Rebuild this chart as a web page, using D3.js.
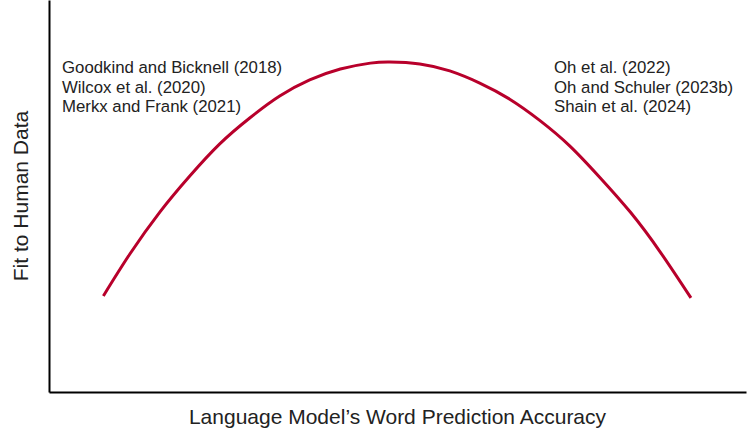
<!DOCTYPE html>
<html>
<head>
    <title>Fit to Human Data vs Word Prediction Accuracy</title>
    <style>
        body {
            margin: 0;
            background-color: #fff;
        }
        svg text {
            font-family: "Liberation Sans", Arial, sans-serif;
            fill: #222;
        }
        .label {
            font-size: 16.8px;
        }
        .axis-title {
            font-size: 21px;
        }
        .curve {
            fill: none;
            stroke: #b8002b;
            stroke-width: 3px;
        }
    </style>
</head>
<body>
    <div id="chart"></div>

    <script src="https://cdnjs.cloudflare.com/ajax/libs/d3/7.8.5/d3.min.js"></script>
    <script>
        // curve (x = accuracy, y = fit, both 0-100)
        const accuracy = [7.8, 11.6, 15.9, 20.2, 24.5, 28.8, 33.1, 37.4, 41.8, 46.1, 48.9,
                          53.2, 57.5, 61.8, 66.1, 70.4, 74.7, 79.0, 83.4, 87.7, 92.1];
        const fit = [24.5, 35.2, 45.9, 55.1, 63.3, 69.9, 75.5, 79.6, 82.4, 83.9, 84.2,
                     83.7, 81.9, 78.8, 74.7, 69.3, 62.8, 54.8, 45.9, 35.7, 24.0];

        const leftLabels = ["Goodkind and Bicknell (2018)", "Wilcox et al. (2020)", "Merkx and Frank (2021)"];
        const rightLabels = ["Oh et al. (2022)", "Oh and Schuler (2023b)", "Shain et al. (2024)"];

        const xTitle = "Language Model\u2019s Word Prediction Accuracy";
        const yTitle = "Fit to Human Data";

        const width = 747;
        const height = 436;
        const margin = {top: 0, right: 1, bottom: 44, left: 49};

        const svg = d3.select("#chart")
            .append("svg")
            .attr("width", width)
            .attr("height", height);

        const x = d3.scaleLinear()
            .domain([0, 100])
            .range([margin.left, width - margin.right]);

        const y = d3.scaleLinear()
            .domain([0, 100])
            .range([height - margin.bottom, margin.top]);

        // axes: plain lines, no ticks
        svg.append("g")
            .attr("transform", `translate(0,${height - margin.bottom})`)
            .call(d3.axisBottom(x).ticks(0).tickSizeOuter(0))
            .select(".domain")
            .attr("stroke", "#000")
            .attr("stroke-width", 2);

        svg.append("g")
            .attr("transform", `translate(${margin.left},0)`)
            .call(d3.axisLeft(y).ticks(0).tickSizeOuter(0))
            .select(".domain")
            .attr("stroke", "#000")
            .attr("stroke-width", 2);

        const points = accuracy.map((a, i) => [a, fit[i]]);

        const line = d3.line()
            .x(d => x(d[0]))
            .y(d => y(d[1]))
            .curve(d3.curveNatural);

        svg.append("path")
            .datum(points)
            .attr("class", "curve")
            .attr("d", line);

        // study labels
        svg.append("g")
            .selectAll("text")
            .data(leftLabels)
            .join("text")
            .attr("class", "label")
            .attr("x", 62)
            .attr("y", (d, i) => 73 + i * 19.5)
            .text(d => d);

        svg.append("g")
            .selectAll("text")
            .data(rightLabels)
            .join("text")
            .attr("class", "label")
            .attr("x", 554)
            .attr("y", (d, i) => 73 + i * 19.5)
            .text(d => d);

        // axis titles
        svg.append("text")
            .attr("class", "axis-title")
            .attr("x", (x(0) + x(100)) / 2)
            .attr("y", 424)
            .attr("text-anchor", "middle")
            .text(xTitle);

        svg.append("text")
            .attr("class", "axis-title")
            .attr("transform", `translate(28,${y(50)}) rotate(-90)`)
            .attr("text-anchor", "middle")
            .text(yTitle);
    </script>
</body>
</html>
